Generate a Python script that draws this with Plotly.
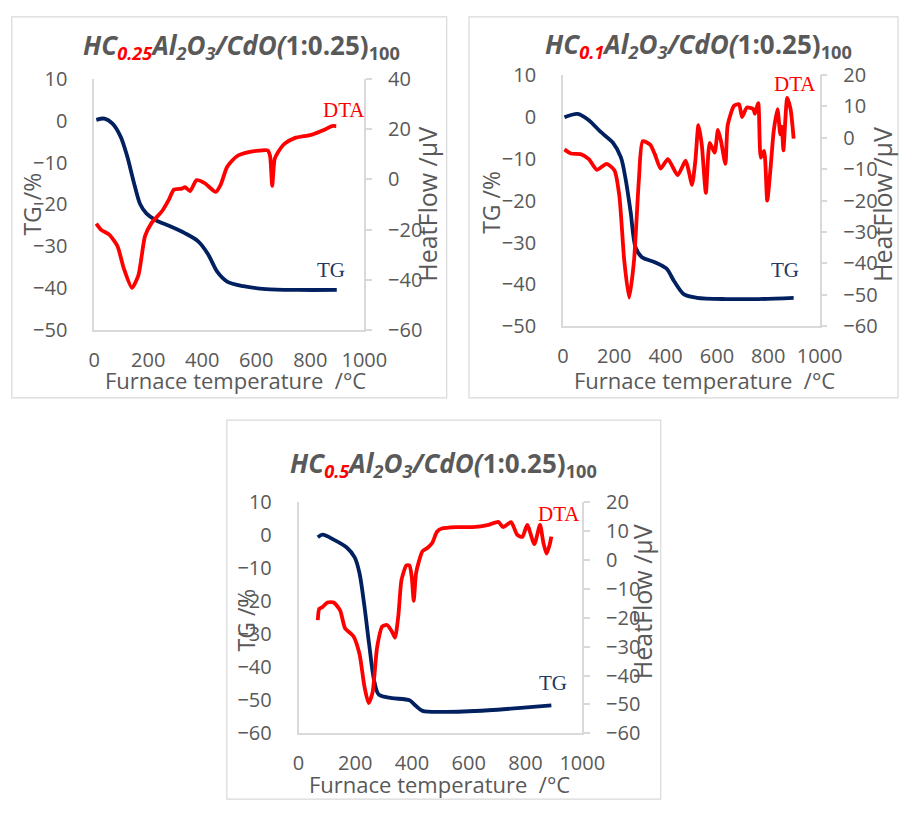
import plotly.graph_objects as go

W, H = 922, 815

# ---- Sample HC0.25 : temperature (°C), TG (%), DTA (µV) ----
t1_tg = [8, 38, 68, 98, 122, 146, 170, 194, 229, 277, 337, 385, 421, 456, 492, 552, 636, 755, 898]
tg1 = [0.2, 0.5, -0.7, -3.8, -8.4, -14.5, -19.9, -22.2, -23.8, -25.1, -26.9, -28.8, -31.8, -36.1,
       -38.4, -39.5, -40.2, -40.4, -40.4]
t1_dta = [8, 26, 56, 86, 110, 140, 164, 188, 211, 253, 277, 295, 325, 337, 355, 379, 409, 450, 468,
          492, 527, 576, 642, 651, 659, 668, 681, 705, 742, 803, 850, 880, 896]
dta1 = [-17.6, -20.1, -22.0, -26.5, -35.5, -43.2, -38.1, -22.7, -17.6, -12.4, -8.0, -4.1, -3.7, -3.1,
        -4.7, -0.3, -1.5, -5.0, -2.2, 4.9, 9.1, 10.9, 11.5, 9.3, -2.6, 8.1, 10.9, 14.2, 16.4, 17.7,
        19.6, 21.2, 21.2]

# ---- Sample HC0.1 ----
t2_tg = [6, 57, 101, 145, 195, 226, 245, 264, 283, 308, 358, 403, 434, 472, 522, 635, 761, 899]
tg2 = [-0.1, 0.7, -0.8, -3.5, -6.2, -9.7, -15.1, -22.8, -31.2, -33.5, -34.7, -36.2, -39.3, -42.4,
       -43.2, -43.5, -43.5, -43.2]
t2_dta = [6, 31, 69, 101, 132, 170, 201, 220, 239, 258, 277, 296, 311, 340, 358, 381, 409, 447, 478,
          491, 503, 516, 528, 541, 557, 572, 591, 604, 616, 633, 642, 667, 686, 698, 717, 742, 748,
          761, 771, 784, 796, 809, 821, 836, 847, 853, 859, 874, 887, 899]
dta2 = [-3.7, -5.0, -5.2, -6.8, -10.2, -8.3, -10.4, -18.6, -39.1, -50.9, -39.1, -13.4, -1.1, -2.2,
        -5.2, -9.8, -6.8, -11.9, -7.3, -10.9, -15.0, -7.3, 4.0, -2.2, -17.5, -1.6, -4.7, 2.5, -1.1,
        -8.3, 4.0, 10.2, 10.7, 6.6, 9.6, 9.1, 7.6, 11.0, -6.3, -4.2, -20.0, -9.7, 1.9, 9.1, 1.1,
        3.5, -4.0, 12.7, 9.1, -0.3]

# ---- Sample HC0.5 ----
t3_tg = [68, 85, 124, 170, 198, 215, 232, 249, 266, 283, 329, 391, 414, 437, 522, 670, 783, 891]
tg3 = [-0.6, 0.2, -1.3, -3.7, -6.7, -11.5, -21.3, -33.1, -43.8, -48.3, -49.3, -50.0, -51.7, -53.2,
       -53.5, -53.0, -52.3, -51.5]
t3_dta = [68, 73, 84, 102, 124, 147, 164, 193, 215, 232, 247, 261, 277, 295, 312, 329, 340, 352, 363,
          380, 391, 399, 406, 414, 425, 437, 454, 471, 488, 505, 556, 613, 670, 704, 721, 749, 771,
          789, 806, 831, 851, 863, 874, 885, 891]
dta3 = [-20.8, -16.9, -16.3, -14.7, -14.7, -17.5, -23.6, -26.3, -32.5, -43.6, -49.5, -45.8, -30.2,
        -23.0, -22.5, -24.7, -26.9, -19.1, -6.9, -1.9, -1.9, -5.8, -14.1, -4.7, -0.2, 3.1, 4.2, 5.9,
        9.8, 10.9, 11.4, 11.4, 12.2, 13.2, 11.4, 13.1, 8.7, 8.0, 12.2, 5.5, 12.2, 5.9, 2.2, 5.3, 8.1]

TG_COLOR = "#002060"
DTA_COLOR = "#ff0000"
GRID = "#d9d9d9"
TXT = "#595959"
FONT = "Open Sans"
X_TITLE = "Furnace temperature \u00a0/°C"


def px(x):
    return x / W


def py(y):
    return 1 - y / H


panels = [
    dict(t_tg=t1_tg, tg=tg1, t_dta=t1_dta, dta=dta1, sub="0.25",
         box=(6, 3, 455, 397), plot=(91, 67, 370, 327), yl=[-50, 10], yr=[-60, 40], yr_step=20,
         title=(243, 33), xt=(237, 379), ytl=(27, 197), ytr=(435, 197),
         lab_dta=(349, 99), lab_tg=(336, 265)),
    dict(t_tg=t2_tg, tg=tg2, t_dta=t2_dta, dta=dta2, sub="0.1",
         box=(478, 3, 921, 397), plot=(575, 63, 840, 323), yl=[-50, 10], yr=[-60, 20], yr_step=10,
         title=(715, 32), xt=(721, 379), ytl=(500, 195), ytr=(905, 197),
         lab_dta=(815, 72), lab_tg=(804, 265)),
    dict(t_tg=t3_tg, tg=tg3, t_dta=t3_dta, dta=dta3, sub="0.5",
         box=(228, 420, 676, 812), plot=(302, 505, 595, 744), yl=[-60, 10], yr=[-60, 20], yr_step=10,
         title=(452, 465), xt=(448, 796), ytl=(248, 627), ytr=(657, 608),
         lab_dta=(571, 517), lab_tg=(565, 692)),
]

fig = go.Figure()
shapes, annotations = [], []
tickfont = dict(family=FONT, size=20, color=TXT)


def label(text, pos, font, angle=0):
    return dict(text=text, x=px(pos[0]), y=py(pos[1]), xref="paper", yref="paper",
                xanchor="center", yanchor="middle", showarrow=False, textangle=angle, font=font)


for i, p in enumerate(panels):
    n = i + 1
    xa = "x" if n == 1 else f"x{n}"
    yl_idx = 2 * n - 1
    yr_idx = 2 * n
    yla = "y" if yl_idx == 1 else f"y{yl_idx}"
    yra = f"y{yr_idx}"

    fig.add_trace(go.Scatter(x=p["t_tg"], y=p["tg"], mode="lines", xaxis=xa, yaxis=yla,
                             line=dict(color=TG_COLOR, width=3.8, shape="spline", smoothing=0.8),
                             showlegend=False, hoverinfo="skip"))
    fig.add_trace(go.Scatter(x=p["t_dta"], y=p["dta"], mode="lines", xaxis=xa, yaxis=yra,
                             line=dict(color=DTA_COLOR, width=3.8, shape="spline", smoothing=0.6),
                             showlegend=False, hoverinfo="skip"))

    x0, y0, x1, y1 = p["plot"]
    xkey = "xaxis" if n == 1 else f"xaxis{n}"
    ylkey = "yaxis" if yl_idx == 1 else f"yaxis{yl_idx}"
    yrkey = f"yaxis{yr_idx}"
    fig.layout[xkey] = dict(domain=[px(x0), px(x1)], range=[0, 1000], dtick=200, anchor=yla,
                            showline=True, linecolor=GRID, linewidth=1.5, showgrid=False,
                            zeroline=False, ticks="", tickfont=tickfont, ticklabelstandoff=11)
    fig.layout[ylkey] = dict(domain=[py(y1), py(y0)], range=p["yl"], dtick=10, anchor=xa,
                             showline=True, linecolor=GRID, linewidth=1.5, showgrid=False,
                             zeroline=False, ticks="", tickfont=tickfont, ticklabelstandoff=21)
    fig.layout[yrkey] = dict(domain=[py(y1), py(y0)], range=p["yr"], dtick=p["yr_step"],
                             anchor=xa, overlaying=yla, side="right", showline=True,
                             linecolor=GRID, linewidth=1.5, showgrid=False, zeroline=False,
                             ticks="outside", ticklen=6, tickcolor=GRID, tickwidth=1.5,
                             tickfont=tickfont, ticklabelstandoff=12)

    bx0, by0, bx1, by1 = p["box"]
    shapes.append(dict(type="rect", xref="paper", yref="paper", x0=px(bx0), x1=px(bx1),
                       y0=py(by1), y1=py(by0), line=dict(color=GRID, width=1.2), layer="below"))

    title = (f"<b><i>HC<sub><span style='color:#ff0000'>{p['sub']}</span></sub>"
             f"Al<sub>2</sub>O<sub>3</sub>/CdO(</i>1:0.25)<sub>100</sub></b>")
    annotations.append(label(title, p["title"], dict(family=FONT, size=26, color=TXT)))
    annotations.append(label(X_TITLE, p["xt"], dict(family=FONT, size=22, color=TXT)))
    annotations.append(label("TG /%", p["ytl"], dict(family=FONT, size=23, color=TXT), -90))
    annotations.append(label("HeatFlow /µV", p["ytr"], dict(family=FONT, size=25, color=TXT), -90))
    annotations.append(label("DTA", p["lab_dta"],
                             dict(family="Liberation Serif", size=21, color=DTA_COLOR)))
    annotations.append(label("TG", p["lab_tg"],
                             dict(family="Liberation Serif", size=21, color="#1f3864")))

fig.update_layout(width=W, height=H, margin=dict(l=0, r=0, t=0, b=0),
                  paper_bgcolor="white", plot_bgcolor="white",
                  shapes=shapes, annotations=annotations, showlegend=False)

# keep the page flush with the figure (no default body margin)
fig.write_html("out.html", post_script="document.body.style.margin='0';")
